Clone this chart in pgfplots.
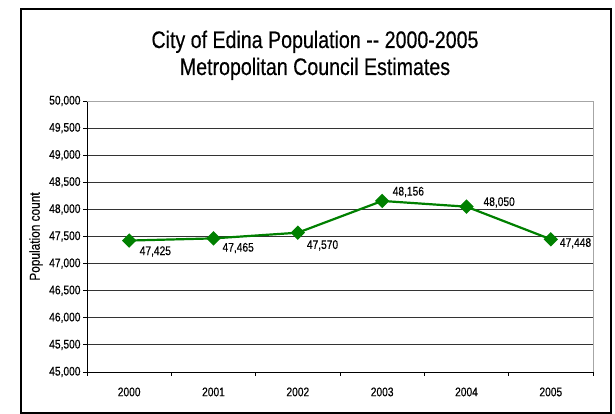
\documentclass[border=0pt]{standalone}
\usepackage{fontspec}
\setmainfont{Liberation Sans}[FakeStretch=0.82,FakeBold=0.4]
\usepackage{pgfplots}
\pgfplotsset{compat=1.18}
\usepackage{pgfplotstable}
\definecolor{sgreen}{RGB}{0,128,0}

\pgfplotstableread{
x y dx dy
0 47425 9.5 -11
1 47465 8 -9.7
2 47570 8 -12.7
3 48156 9.5 9
4 48050 16 4.3
5 47448 8 -4
}\datatable

\begin{document}
\begin{tikzpicture}
\begin{axis}[
  name=ax, at={(0,0)}, anchor=south west,
  scale only axis, width=506bp, height=271bp,
  xmin=-0.5, xmax=5.5, ymin=45000, ymax=50000,
  xtick={0,...,5}, xticklabels={2000,2001,2002,2003,2004,2005},
  minor xtick={-0.5,0.5,...,5.5},
  ytick={45000,45500,...,50000},
  scaled y ticks=false,
  /pgf/number format/1000 sep={,},
  /pgf/number format/fixed,
  /pgf/number format/precision=0,
  /pgf/number format/assume math mode=true,
  axis x line*=bottom, axis y line*=left,
  axis line style={black, line width=0.8bp, -},
  tick align=outside,
  tick style={black, line width=0.8bp},
  major tick length=4bp, minor tick length=4bp,
  major x tick style={draw=none},
  ymajorgrids,
  major grid style={black!80, line width=0.8bp},
  tick label style={font=\fontsize{12.5}{14}\selectfont},
  xticklabel style={yshift=-8bp},
  yticklabel style={xshift=1bp},
  ylabel={Population count},
  ylabel style={at={(axis description cs:-0.1008,0.5)}, anchor=center, font=\fontsize{14.5}{16}\selectfont},
  clip=false,
]
\addplot[sgreen, line width=2.2bp, mark=square*, mark size=4bp,
  mark options={rotate=45, solid},
  visualization depends on={\thisrow{dx} \as \dx},
  visualization depends on={\thisrow{dy} \as \dy},
  nodes near coords,
  nodes near coords style={anchor=west, inner sep=0pt, xshift=\dx pt, yshift=\dy pt,
    font=\fontsize{12.5}{14}\selectfont, text=black}
] table[x=x,y=y] {\datatable};
\draw[black!35, line width=0.8bp] (rel axis cs:0,1) -- (rel axis cs:1,1) -- (rel axis cs:1,0);
\end{axis}
\draw[line width=2bp] ([xshift=-66bp,yshift=-41bp]ax.south west) rectangle ([xshift=18bp,yshift=92bp]ax.north east);
\node[anchor=base, inner sep=0pt, font=\fontsize{24}{27}\selectfont] at ([xshift=-25bp,yshift=53bp]ax.north) {City of Edina Population -{}- 2000-2005};
\node[anchor=base, inner sep=0pt, font=\fontsize{24}{27}\selectfont] at ([xshift=-25bp,yshift=26bp]ax.north) {Metropolitan Council Estimates};
\pgfresetboundingbox
\path ([xshift=-87bp,yshift=-42bp]ax.south west) rectangle ([xshift=22bp,yshift=101bp]ax.north east);
\end{tikzpicture}
\end{document}
